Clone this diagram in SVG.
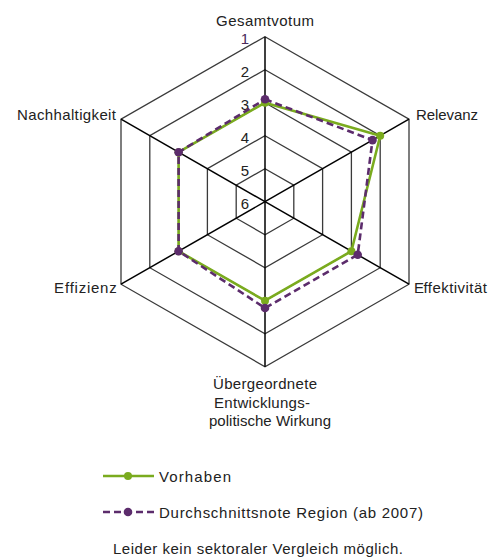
<svg xmlns="http://www.w3.org/2000/svg" width="489" height="557" viewBox="0 0 489 557">
<style>
.ring{fill:none;stroke:#3a3a3a;stroke-width:1.3}
.spoke{stroke:#000;stroke-width:1.5}
.lbl{font-family:"Liberation Sans",Arial,sans-serif;font-size:15px;fill:#222}
.num{font-family:"Liberation Sans",Arial,sans-serif;font-size:15px;fill:#222;text-anchor:end}
.green{fill:none;stroke:#7aab1e;stroke-width:2.6;stroke-linejoin:round}
.purple{fill:none;stroke:#5c2c6c;stroke-width:2.6;stroke-dasharray:7 4;stroke-linejoin:round}
.gdot{fill:#7aab1e}
.pdot{fill:#5c2c6c}
</style>
<rect width="489" height="557" fill="#fff"/>
<g id="grid">
<polygon class="ring" points="265,168.7 293.8,185.2 293.8,218.2 265,234.7 236.2,218.2 236.2,185.2"/>
<polygon class="ring" points="265,135.7 322.6,168.7 322.6,234.7 265,267.7 207.4,234.7 207.4,168.7"/>
<polygon class="ring" points="265,102.7 351.4,152.2 351.4,251.2 265,300.7 178.6,251.2 178.6,152.2"/>
<polygon class="ring" points="265,69.7 380.2,135.7 380.2,267.7 265,333.7 149.8,267.7 149.8,135.7"/>
<polygon class="ring" points="265,36.7 409,119.2 409,284.2 265,366.7 121,284.2 121,119.2"/>
</g>
<g id="axes">
<line class="spoke" x1="265" y1="201.7" x2="265" y2="36.7"/>
<line class="spoke" x1="265" y1="201.7" x2="409" y2="119.2"/>
<line class="spoke" x1="265" y1="201.7" x2="409" y2="284.2"/>
<line class="spoke" x1="265" y1="201.7" x2="265" y2="366.7"/>
<line class="spoke" x1="265" y1="201.7" x2="121" y2="284.2"/>
<line class="spoke" x1="265" y1="201.7" x2="121" y2="119.2"/>
</g>
<g id="scale">
<text class="num" x="249" y="43.7" fill="#4a2a5a" style="fill:#4a2a5a">1</text>
<text class="num" x="249" y="76.7">2</text>
<text class="num" x="249" y="109.7">3</text>
<text class="num" x="249" y="142.7">4</text>
<text class="num" x="249" y="175.7">5</text>
<text class="num" x="249" y="208.7">6</text>
</g>
<g id="series-vorhaben">
<polygon class="green" points="265,102.7 380.2,135.7 351.4,251.2 265,300.7 178.6,251.2 178.6,152.2"/>
<circle class="gdot" cx="265" cy="102.7" r="4"/>
<circle class="gdot" cx="380.2" cy="135.7" r="4"/>
<circle class="gdot" cx="351.4" cy="251.2" r="4"/>
<circle class="gdot" cx="265" cy="300.7" r="4"/>
<circle class="gdot" cx="178.6" cy="251.2" r="4"/>
<circle class="gdot" cx="178.6" cy="152.2" r="4"/>
</g>
<g id="series-region">
<polygon class="purple" points="265,99.3 372.5,140.1 357.7,254.8 265,308 178.6,251.2 178.6,152.2"/>
<circle class="pdot" cx="265" cy="99.3" r="4.3"/>
<circle class="pdot" cx="372.5" cy="140.1" r="4.3"/>
<circle class="pdot" cx="357.7" cy="254.8" r="4.3"/>
<circle class="pdot" cx="265" cy="308" r="4.3"/>
<circle class="pdot" cx="178.6" cy="251.2" r="4.3"/>
<circle class="pdot" cx="178.6" cy="152.2" r="4.3"/>
</g>
<g id="labels">
<text class="lbl" x="216" y="26" textLength="98" lengthAdjust="spacing">Gesamtvotum</text>
<text class="lbl" x="416" y="120" textLength="62" lengthAdjust="spacing">Relevanz</text>
<text class="lbl" x="414" y="293">E<tspan x="423.5" letter-spacing="0.45">ffektivität</tspan></text>
<text class="lbl" x="213" y="389" textLength="104" lengthAdjust="spacing">Übergeordnete</text>
<text class="lbl" x="214" y="407.5" textLength="96" lengthAdjust="spacing">Entwicklungs-</text>
<text class="lbl" x="209" y="426" textLength="122" lengthAdjust="spacing">politische Wirkung</text>
<text class="lbl" x="54" y="293">E<tspan x="65" letter-spacing="0.75">ffizienz</tspan></text>
<text class="lbl" x="17" y="120" textLength="99" lengthAdjust="spacing">Nachhaltigkeit</text>
</g>
<g id="legend">
<line x1="103" y1="476" x2="154" y2="476" stroke="#7aab1e" stroke-width="2.6"/>
<circle class="gdot" cx="128" cy="476" r="4"/>
<text class="lbl" x="159" y="482" textLength="72" lengthAdjust="spacing">Vorhaben</text>
<line x1="103" y1="512" x2="154" y2="512" stroke="#5c2c6c" stroke-width="2.6" stroke-dasharray="7 4"/>
<circle class="pdot" cx="128" cy="512" r="4.3"/>
<text class="lbl" x="159" y="518" textLength="264" lengthAdjust="spacing">Durchschnittsnote Region (ab 2007)</text>
<text class="lbl" x="113" y="553.5" textLength="290" lengthAdjust="spacing">Leider kein sektoraler Vergleich möglich.</text>
</g>
</svg>
